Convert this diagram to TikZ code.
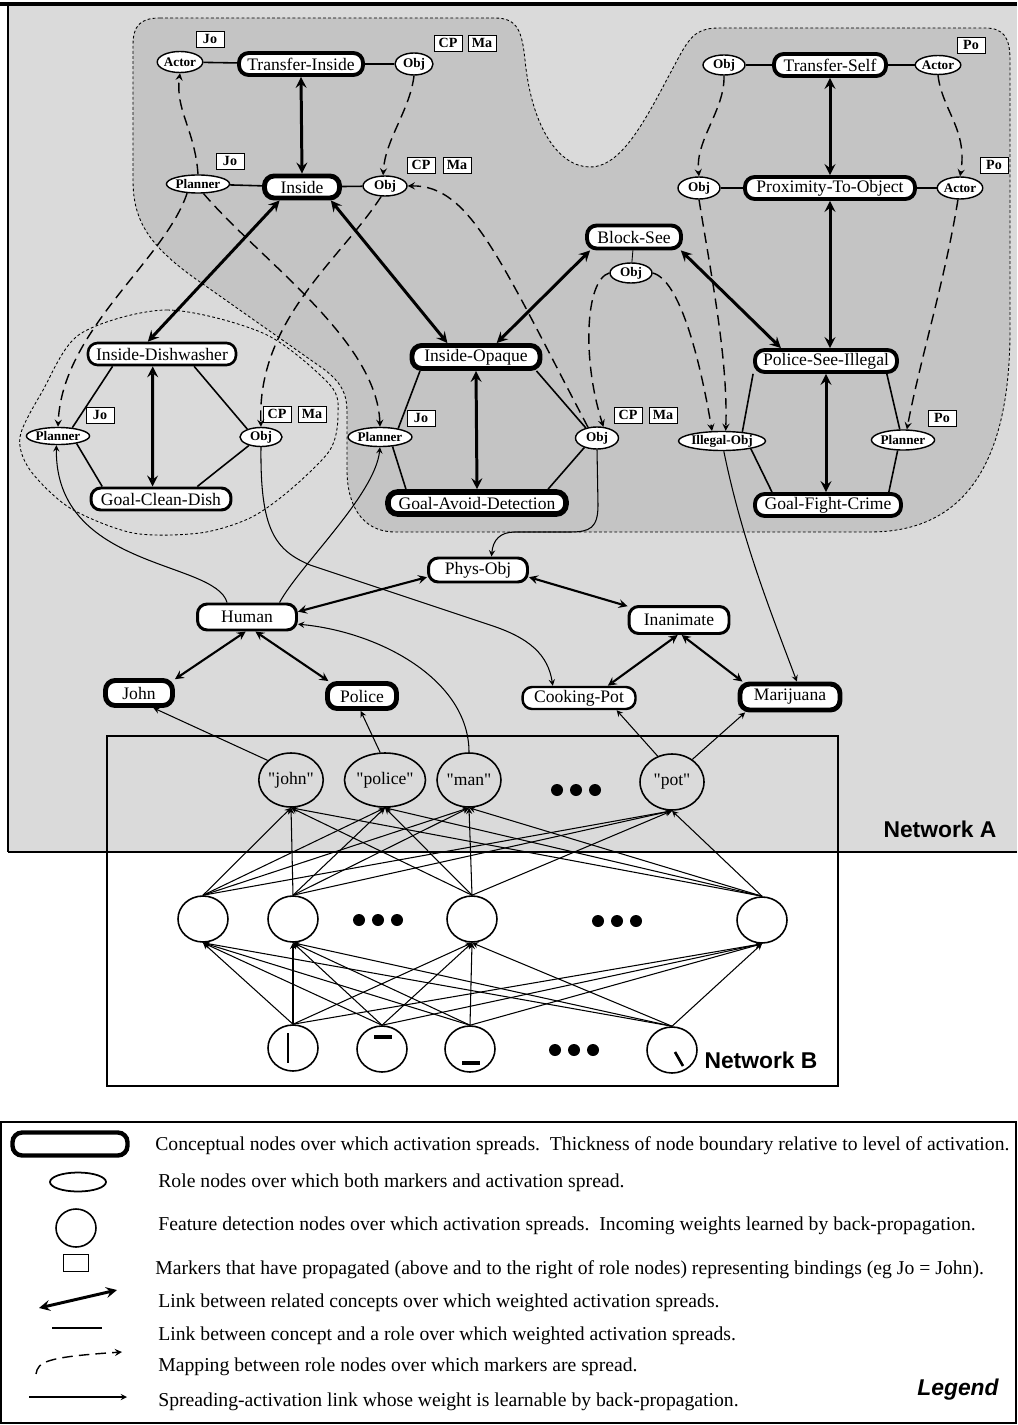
\documentclass[tikz,border=0pt]{standalone}
\usepackage{fontspec}
\setmainfont{Liberation Serif}
\newfontfamily\labelfont{Liberation Sans}
\usepackage{xcolor}
\usepackage{tikz}
\usetikzlibrary{shapes.geometric}
\definecolor{netgray}{HTML}{DADADA}
\definecolor{framegray}{HTML}{C4C4C4}

\begin{document}
\begin{tikzpicture}[x=0.02cm,y=-0.02cm,
      concept/.style={rectangle,draw,fill=white,rounded corners=5.5pt,
                  minimum height=0.44cm,inner xsep=2pt,inner ysep=0pt,
                  font=\fontsize{10}{11}\selectfont},
      role/.style={ellipse,draw,fill=white,line width=0.8pt,inner sep=0pt,
                  minimum width=0.84cm,minimum height=0.4cm,
                  font=\bfseries\fontsize{7.5}{8}\selectfont},
      marker/.style={rectangle,draw,fill=white,line width=0.5pt,inner sep=0pt,
                  minimum width=0.56cm,minimum height=0.32cm,
                  font=\bfseries\fontsize{8}{9}\selectfont},
      feat/.style={ellipse,draw,line width=0.9pt,inner sep=0pt,
                  minimum width=1cm,minimum height=0.92cm},
      word/.style={feat,minimum width=1.28cm,minimum height=1.08cm,
                  font=\fontsize{10}{11}\selectfont},
      arr/.style={<->,line width=1.7pt,>=stealth},
      arrm/.style={<->,line width=1.2pt,>=stealth},
      rolelink/.style={line width=0.9pt},
      link/.style={->,line width=0.6pt,>=stealth},
      map/.style={->,line width=0.8pt,>=stealth,dash pattern=on 6pt off 3.5pt},
      framedash/.style={line width=0.5pt,dash pattern=on 1.6pt off 1.3pt},
      legtext/.style={anchor=west,inner sep=0pt,font=\fontsize{11.2}{13}\selectfont}]
    \useasboundingbox (0,0) rectangle (1017,1425);

    \fill[netgray] (8,4) rectangle (1017,852);
    \filldraw[fill=framegray,framedash] (160,18) -- (495,18)
      .. controls (518,18) and (522,32) .. (525,60)
      .. controls (532,130) and (560,167) .. (590,167)
      .. controls (625,167) and (650,110) .. (680,55)
      .. controls (692,33) and (700,28) .. (720,28) -- (985,28)
      .. controls (1004,28) and (1010,38) .. (1010,60) -- (1010,330)
      .. controls (1010,470) and (960,532) .. (870,532) -- (395,532)
      .. controls (362,532) and (347,505) .. (347,470) -- (347,412)
      .. controls (347,392) and (340,382) .. (325,370) -- (200,282)
      .. controls (150,247) and (133,222) .. (133,180) -- (133,45)
      .. controls (133,26) and (140,18) .. (160,18) -- cycle;
    \draw[framedash] plot[smooth cycle] coordinates {(80,334) (167,310) (265,334)
      (330,385) (338,415) (330,450) (290,490) (250,518) (200,533) (133,533)
      (70,508) (30,470) (20,437) (42,392)};
    \draw[line width=2pt] (0,4) -- (1017,4);
    \draw[line width=1.6pt] (8,4) -- (8,852);
    \draw[line width=1.4pt] (8,852) -- (1017,852);
    \draw[line width=1.6pt] (107,736) rectangle (838,1086);
    \draw[line width=1.6pt] (1,1122) rectangle (1016,1423);

    \node[concept,line width=2.2pt,minimum width=2.48cm] (ti) at (301,64) {Transfer-Inside};
    \node[concept,line width=2.8pt,minimum width=1.5cm] (ins) at (302,187) {Inside};
    \node[concept,line width=2.2pt,minimum width=2.24cm] (ts) at (830,65) {Transfer-Self};
    \node[concept,line width=2.2pt,minimum width=3.4cm] (pto) at (830,188) {Proximity-To-Object};
    \node[concept,line width=2.2pt,minimum width=1.88cm,minimum height=0.46cm] (bs) at (634,237) {Block-See};
    \node[concept,line width=1.5pt,minimum width=2.96cm] (id) at (162,354) {Inside-Dishwasher};
    \node[concept,line width=1.7pt,minimum width=2.8cm] (gcd) at (161,499) {Goal-Clean-Dish};
    \node[concept,line width=2.8pt,minimum width=2.56cm,minimum height=0.46cm] (io) at (476,357) {Inside-Opaque};
    \node[concept,line width=3.2pt,minimum width=3.56cm] (gad) at (477,503) {Goal-Avoid-Detection};
    \node[concept,line width=2.2pt,minimum width=2.84cm] (psi) at (826,361) {Police-See-Illegal};
    \node[concept,line width=2.2pt,minimum width=2.92cm] (gfc) at (828,505) {Goal-Fight-Crime};
    \node[concept,line width=1.7pt,minimum width=1.98cm,minimum height=0.48cm] (phys) at (478,570) {Phys-Obj};
    \node[concept,line width=1.7pt,minimum width=1.98cm,minimum height=0.52cm] (human) at (247,617) {Human};
    \node[concept,line width=1.7pt,minimum width=2cm,minimum height=0.54cm] (inan) at (679,620) {Inanimate};
    \node[concept,line width=2.8pt,minimum width=1.34cm,minimum height=0.5cm] (john) at (139,693) {John};
    \node[concept,line width=2.8pt,minimum width=1.38cm,minimum height=0.5cm] (police) at (362,696) {Police};
    \node[concept,line width=1.4pt,minimum width=2.26cm] (cpot) at (579,698) {Cooking-Pot};
    \node[concept,line width=2.8pt,minimum width=2cm,minimum height=0.52cm] (mari) at (790,697) {Marijuana};

    \node[role,minimum width=0.9cm,minimum height=0.42cm] (acTI) at (180,62) {Actor};
    \node[role,minimum width=0.76cm,minimum height=0.44cm] (obTI) at (414,64) {Obj};
    \node[role,minimum width=1.26cm,minimum height=0.36cm] (plIn) at (198,184) {Planner};
    \node[role,minimum width=0.88cm] (obIn) at (385,186) {Obj};
    \node[role] (obTS) at (724,65) {Obj};
    \node[role,minimum width=0.8cm,minimum height=0.38cm] (acTS) at (938,65) {Actor};
    \node[role,minimum height=0.44cm] (obPTO) at (699,188) {Obj};
    \node[role,minimum width=0.8cm,minimum height=0.44cm] (acPTO) at (960,188) {Actor};
    \node[role] (obBS) at (631,273) {Obj};
    \node[role,minimum width=1.26cm,minimum height=0.34cm] (plID) at (58,436) {Planner};
    \node[role,minimum height=0.38cm] (obID) at (261,437) {Obj};
    \node[role,minimum width=1.28cm,minimum height=0.38cm] (plIO) at (380,437) {Planner};
    \node[role,minimum width=0.86cm,minimum height=0.44cm] (obIO) at (597,438) {Obj};
    \node[role,minimum width=1.66cm,minimum height=0.38cm] (ilObj) at (722,441) {Illegal-Obj};
    \node[role,minimum width=1.26cm] (plPSI) at (903,440) {Planner};

    \node[marker] (joTI) at (210,39) {Jo};
    \node[marker] (cpTI) at (448,43) {CP};
    \node[marker] (maTI) at (482,43) {Ma};
    \node[marker] (joIn) at (230,161) {Jo};
    \node[marker] (cpIn) at (421,165) {CP};
    \node[marker] (maIn) at (457,165) {Ma};
    \node[marker] (poTS) at (971,45) {Po};
    \node[marker] (poPTO) at (994,165) {Po};
    \node[marker] (joID) at (100,415) {Jo};
    \node[marker] (cpID) at (277,414) {CP};
    \node[marker] (maID) at (312,414) {Ma};
    \node[marker] (joIO) at (421,418) {Jo};
    \node[marker] (cpIO) at (628,415) {CP};
    \node[marker] (maIO) at (663,415) {Ma};
    \node[marker] (poPSI) at (942,418) {Po};

    \node[word] (wjohn) at (291,780) {\textquotedbl john\textquotedbl};
    \node[word] (wpolice) at (385,780) {\textquotedbl police\textquotedbl};
    \node[word] (wman) at (469,780) {\textquotedbl man\textquotedbl};
    \node[word,minimum height=1.12cm] (wpot) at (672,782) {\textquotedbl pot\textquotedbl};
    \node[feat] (h1) at (203,919) {};
    \node[feat] (h2) at (293,919) {};
    \node[feat] (h3) at (472,919) {};
    \node[feat] (h4) at (762,920) {};
    \node[feat] (b1) at (293,1048) {};
    \node[feat] (b2) at (382,1049) {};
    \node[feat] (b3) at (470,1049) {};
    \node[feat] (b4) at (672,1050) {};
    \foreach \cx/\cy in {576/790,378/920,617/921,574/1050}
      \foreach \d in {-19,0,19}
        \fill (\cx+\d,\cy) circle[radius=6];
    \draw[line width=1.5pt] (288,1033) -- (288,1063);
    \draw[line width=2pt] (374,1037) -- (392,1037);
    \draw[line width=2pt] (462,1063) -- (480,1063);
    \draw[line width=1.5pt] (675,1052) -- (683,1066);

    \node[font=\labelfont\bfseries\fontsize{13}{15}\selectfont] (neta) at (940,829) {Network A};
    \node[font=\labelfont\bfseries\fontsize{13}{15}\selectfont] (netb) at (761,1060) {Network B};

    \draw[rolelink] (acTI) -- (ti);
    \draw[rolelink] (ti) -- (obTI);
    \draw[rolelink] (plIn) -- (ins);
    \draw[rolelink] (ins) -- (obIn);
    \draw[rolelink] (obTS) -- (ts);
    \draw[rolelink] (ts) -- (acTS);
    \draw[rolelink] (obPTO) -- (pto);
    \draw[rolelink] (pto) -- (acPTO);
    \draw[rolelink] (id.194) -- (plID.30);
    \draw[rolelink] (id.-21) -- (obID.150);
    \draw[rolelink] (plID.-22) -- (gcd.168);
    \draw[rolelink] (obID.215) -- (gcd.19);
    \draw[rolelink] (io.194) -- (plIO.25);
    \draw[rolelink] (io.-13) -- (obIO.138);
    \draw[rolelink] (plIO.-37) -- (gad.169);
    \draw[rolelink] (obIO.217) -- (gad.11);
    \draw[rolelink] (psi.190) -- (ilObj.24);
    \draw[rolelink] (psi.-12) -- (plPSI.107);
    \draw[rolelink] (ilObj.-15) -- (gfc.167);
    \draw[rolelink] (plPSI.243) -- (gfc.12);
    \draw[line width=0.5pt] (bs) -- (obBS);

    \draw[arr] (ti.south) -- (ins.north);
    \draw[arr] (ins.211) -- (id.139);
    \draw[arr] (ins.-25) -- (io.154);
    \draw[arr] (id.233) -- (gcd.124);
    \draw[arr] (io.south) -- (gad.north);
    \draw[arr] (bs.197) -- (io.34);
    \draw[arr] (bs.-16) -- (psi.164);
    \draw[arr] (ts.south) -- (pto.north);
    \draw[arr] (pto.south) -- (pto.south |- psi.north);
    \draw[arr] (psi.south) -- (psi.south |- gfc.north);

    \draw[arrm] (phys.188) -- (human.6);
    \draw[arrm] (phys.-8) -- (inan.165);
    \draw[arrm] (human.265) -- (john.21);
    \draw[arrm] (human.-60) -- (police.156);
    \draw[arrm] (inan.265) -- (cpot.23);
    \draw[arrm] (inan.-80) -- (mari.162);

    \draw[map] (plIn.north) .. controls (195,130) and (175,110) .. (acTI.south);
    \draw[map] (obTI.south) .. controls (410,110) and (385,140) .. (obIn.100);
    \draw[map] (plIn.220) .. controls (165,260) and (62,330) .. (plID.north);
    \draw[map] (plIn.-60) .. controls (260,260) and (377,340) .. (plIO.north);
    \draw[map] (obIn.250) .. controls (340,260) and (257,320) .. (obID.north);
    \draw[map] (obIO.130) .. controls (500,260) and (470,185) .. (obIn.east);
    \draw[map] (obTS.south) .. controls (725,110) and (695,140) .. (obPTO.north);
    \draw[map] (acTS.south) .. controls (942,110) and (968,130) .. (acPTO.north);
    \draw[map] (obPTO.south) .. controls (712,280) and (728,360) .. (ilObj.70);
    \draw[map] (acPTO.-100) .. controls (945,280) and (920,360) .. (plPSI.70);
    \draw[map] (obBS.west) .. controls (585,280) and (582,360) .. (obIO.60);
    \draw[map] (obBS.east) .. controls (680,280) and (700,360) .. (ilObj.135);

    \draw[link] (wjohn.140) -- (john.-46);
    \draw[link] (wpolice.100) -- (police.265);
    \draw[link] (wman.north) .. controls (469,680) and (380,632) .. (human.-8);
    \draw[link] (wpot.119) -- (cpot.-18);
    \draw[link] (wpot.48) -- (mari.199);
    \draw[link] (human.144) .. controls (215,560) and (55,570) .. (plID.260);
    \draw[link] (human.24) .. controls (300,565) and (375,495) .. (plIO.south);
    \draw[link] (obID.south) .. controls (260,530) and (275,550) .. (310,565)
      -- (490,625) .. controls (530,638) and (548,655) .. (cpot.155);
    \draw[link] (obIO.south) -- (598,505) .. controls (598,528) and (590,532) .. (570,532)
      -- (515,532) .. controls (500,532) and (493,540) .. (phys.45);
    \draw[link] (ilObj.-80) .. controls (742,540) and (770,610) .. (mari.66);

    \foreach \a in {h1,h2,h3,h4}
      \foreach \b in {wjohn,wpolice,wman,wpot}
        \draw[link] (\a.north) -- (\b.south);
    \foreach \a in {b1,b2,b3,b4}
      \foreach \b in {h1,h2,h3,h4}
        \draw[link] (\a.north) -- (\b.south);

    \node[concept,line width=2.5pt,minimum width=2.3cm,minimum height=0.46cm] (lgconcept) at (70,1144) {};
    \node[role,line width=1pt,minimum width=1.12cm,minimum height=0.38cm] (lgrole) at (78,1182) {};
    \node[feat,minimum width=0.8cm,minimum height=0.76cm] (lgfeat) at (76,1228) {};
    \node[marker,minimum width=0.5cm,minimum height=0.34cm] (lgmark) at (76,1263) {};
    \coordinate (lga1) at (39,1308);
    \coordinate (lga2) at (117,1290);
    \coordinate (lgb1) at (52,1328);
    \coordinate (lgb2) at (102,1328);
    \coordinate (lgc1) at (36,1374);
    \coordinate (lgc2) at (122,1352);
    \coordinate (lgd1) at (29,1397);
    \coordinate (lgd2) at (127,1397);
    \draw[arr] (lga1) -- (lga2);
    \draw[line width=1.4pt] (lgb1) -- (lgb2);
    \draw[map] (lgc1) .. controls (38,1362) and (45,1357) .. (lgc2);
    \draw[link] (lgd1) -- (lgd2);

    \node[legtext] (lt1) at (155,1146) {Conceptual nodes over which activation spreads.\ \ Thickness of node boundary relative to level of activation.};
    \node[legtext] (lt2) at (158,1183) {Role nodes over which both markers and activation spread.};
    \node[legtext] (lt3) at (158,1226) {Feature detection nodes over which activation spreads.\ \ Incoming weights learned by back-propagation.};
    \node[legtext] (lt4) at (155,1270) {Markers that have propagated (above and to the right of role nodes) representing bindings (eg Jo = John).};
    \node[legtext] (lt5) at (158,1303) {Link between related concepts over which weighted activation spreads.};
    \node[legtext] (lt6) at (158,1336) {Link between concept and a role over which weighted activation spreads.};
    \node[legtext] (lt7) at (158,1367) {Mapping between role nodes over which markers are spread.};
    \node[legtext] (lt8) at (158,1402) {Spreading-activation link whose weight is learnable by back-propagation.};
    \node[font=\labelfont\bfseries\itshape\fontsize{13}{15}\selectfont] (legend) at (958,1390) {Legend};
\end{tikzpicture}
\end{document}
